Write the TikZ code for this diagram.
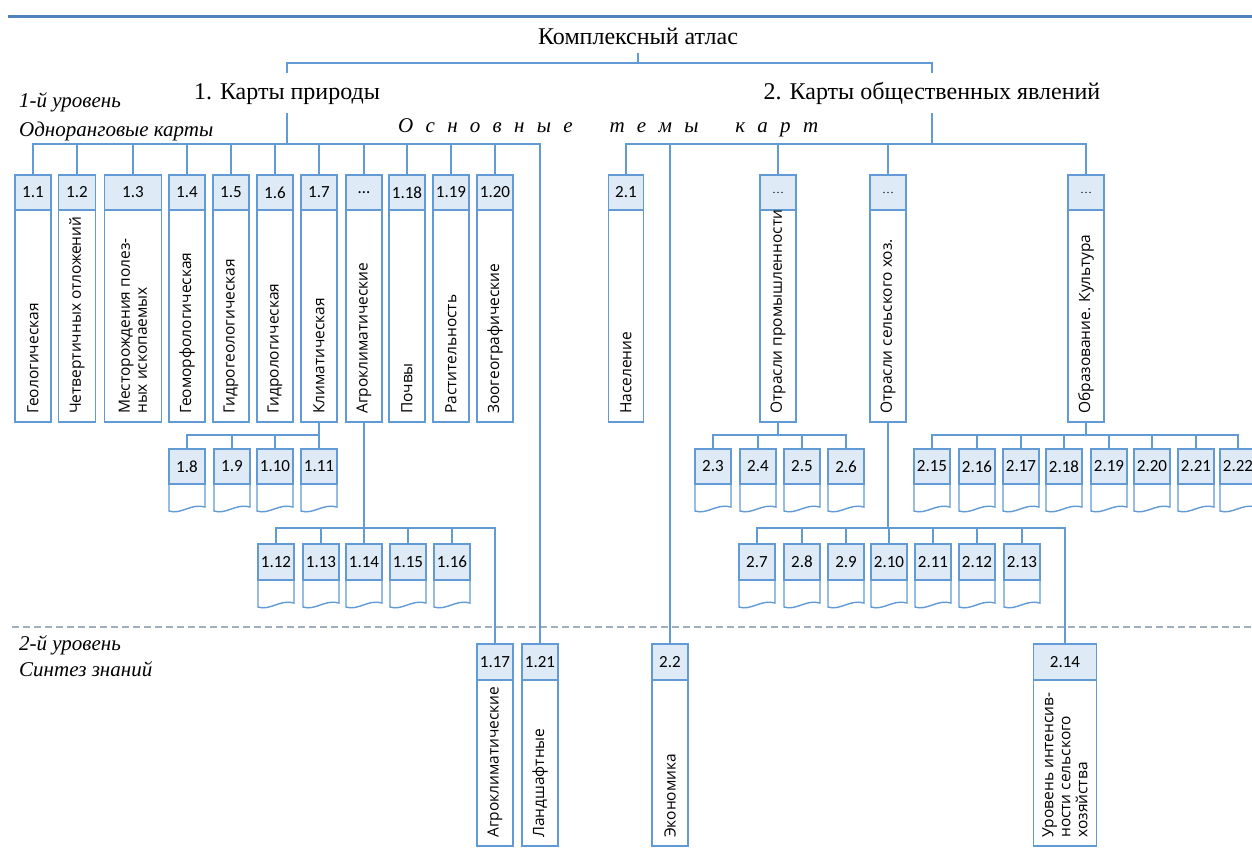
\documentclass[tikz,border=0pt]{standalone}
\usepackage{fontspec}
\setmainfont{Liberation Serif}
\newfontfamily\serifont{Liberation Serif}
\newfontfamily\boxfont{Open Sans}
\newfontfamily\numfont{Carlito}
\definecolor{lineblue}{RGB}{98,154,213}
\definecolor{hdrfill}{RGB}{222,235,247}
\definecolor{topblue}{RGB}{79,129,189}
\definecolor{dashgrey}{RGB}{160,174,190}
\tikzset{
  conn/.style={draw=lineblue,line width=1.4pt},
  hdr/.style={draw=lineblue,fill=hdrfill,line width=1.4pt,inner sep=0pt,font=\numfont\fontsize{17}{20}\selectfont},
  bodybox/.style={draw=lineblue,fill=white,line width=1.4pt,inner sep=0pt},
  docline/.style={draw=lineblue,fill=white,line width=1.4pt},
  vlab/.style={rotate=90,anchor=west,align=left,inner sep=0pt,font=\boxfont\fontsize{15.5}{17}\selectfont},
  titletext/.style={font=\serifont\fontsize{24}{28}\selectfont,anchor=base,inner xsep=2pt},
  leveltext/.style={font=\serifont\itshape\fontsize{21}{25}\selectfont,anchor=base west,inner sep=0pt},
}
\newcommand\TallBox[8]{% name, xc, w, num, label, top, hb, bot
  \pgfmathsetmacro\hh{#7-#6}\pgfmathsetmacro\hy{(#6+#7)/2}%
  \pgfmathsetmacro\bh{#8-#7}\pgfmathsetmacro\by{(#7+#8)/2}%
  \pgfmathsetmacro\ty{#8-8}%
  \node[bodybox,minimum width=#3,minimum height=\bh] (b#1) at (#2,\by) {};
  \node[hdr,minimum width=#3,minimum height=\hh] (h#1) at (#2,\hy) {#4};
  \node[vlab] (t#1) at (#2,\ty) {#5};
}
\newcommand\DocBox[6]{% name, xc, num, top, hb, bot
  \pgfmathsetmacro\xa{#2-18}\pgfmathsetmacro\xb{#2+18}%
  \pgfmathsetmacro\hh{#5-#4}\pgfmathsetmacro\hy{(#4+#5)/2}%
  \draw[docline] (\xa,#5) -- (\xa,{#6+2}) .. controls ({\xa+12},{#6+6}) and ({\xb-14},{#6-6}) .. (\xb,{#6-2}) -- (\xb,#5);
  \node[hdr,minimum width=36,minimum height=\hh] (h#1) at (#2,\hy) {#3};
}
\newcommand\Conn[3]{% parent, child, bus y
  \draw[conn] (#1.south) -- (#1.south |- 0,#3) -| (#2.north);
}
\begin{document}
\begin{tikzpicture}[x=1pt,y=-1pt]
\useasboundingbox (0,0) rectangle (1252,848);
% top rule and dashed separator
\draw[topblue,line width=3pt] (8,17) -- (1252,17);
\draw[dashgrey,line width=1.5pt,dash pattern=on 7pt off 4pt] (12,627) -- (1252,627);

% titles
\node[titletext,text height=17,text depth=0,inner ysep=8] (atlas) at (638,45) {Комплексный атлас};
\node[titletext,text height=17,text depth=3,inner ysep=10] (nat) at (287,100) {1. Карты природы};
\node[titletext,text height=17,text depth=3,inner ysep=10] (soc) at (932,100) {2. Карты общественных явлений};
\draw[conn] (atlas.south) -- (atlas.south |- 0,63) -| (nat.north);
\draw[conn] (atlas.south |- 0,63) -| (soc.north);

% level labels
\node[leveltext] (lev1) at (19,108) {1-й уровень};
\node[leveltext] (lev1b) at (19,136) {Одноранговые карты};
\node[leveltext] (lev2) at (19,650) {2-й уровень};
\node[leveltext] (lev2b) at (19,676) {Синтез знаний};
\node[leveltext] (themes) at (398,132) {\makebox[420pt][s]{О\hfill с\hfill н\hfill о\hfill в\hfill н\hfill ы\hfill е\hfill\hfill\hfill т\hfill е\hfill м\hfill ы\hfill\hfill\hfill к\hfill а\hfill р\hfill т}};

% top row, nature
\TallBox{101}{33}{36}{1.1}{Геологическая}{175}{210}{422}
\TallBox{102}{77}{37}{1.2}{Четвертичных отложений}{175}{210}{422}
\TallBox{103}{133}{57}{1.3}{Месторождения полез-\\ных ископаемых}{175}{210}{422}
\TallBox{104}{187}{36}{1.4}{Геоморфологическая}{175}{210}{422}
\TallBox{105}{231}{36}{1.5}{Гидрогеологическая}{175}{210}{422}
\TallBox{106}{275}{36}{1.6}{Гидрологическая}{175}{210}{422}
\TallBox{107}{319}{36}{1.7}{Климатическая}{175}{210}{422}
\TallBox{1ag}{364}{36}{…}{Агроклиматические}{175}{210}{422}
\TallBox{118}{407}{36}{1.18}{Почвы}{175}{210}{422}
\TallBox{119}{451}{36}{1.19}{Растительность}{175}{210}{422}
\TallBox{120}{495}{36}{1.20}{Зоогеографические}{175}{210}{422}

% top row, society
\TallBox{201}{626}{35}{2.1}{Население}{175}{210}{422}
\TallBox{2pr}{778}{36}{\serifont\fontsize{12}{12}\selectfont\raisebox{-3pt}{…}}{Отрасли промышленности}{175}{210}{422}
\TallBox{2sx}{888}{36}{\serifont\fontsize{12}{12}\selectfont\raisebox{-3pt}{…}}{Отрасли сельского хоз.}{175}{210}{422}
\TallBox{2ob}{1086}{36}{\serifont\fontsize{12}{12}\selectfont\raisebox{-3pt}{…}}{Образование. Культура}{175}{210}{422}

% second level
\TallBox{117}{495}{36}{1.17}{Агроклиматические}{644}{680}{846}
\TallBox{121}{540}{36}{1.21}{Ландшафтные}{644}{680}{846}
\TallBox{202}{670}{36}{2.2}{Экономика}{644}{680}{846}
\TallBox{214}{1065}{63}{2.14}{Уровень интенсив-\\ности сельского\\хозяйства}{644}{680}{846}

% document rows
\DocBox{108}{187}{1.8}{449}{484}{509}
\DocBox{109}{232}{1.9}{449}{484}{509}
\DocBox{110}{275}{1.10}{449}{484}{509}
\DocBox{111}{319}{1.11}{449}{484}{509}
\DocBox{112}{276}{1.12}{544}{580}{605}
\DocBox{113}{321}{1.13}{544}{580}{605}
\DocBox{114}{364}{1.14}{544}{580}{605}
\DocBox{115}{408}{1.15}{544}{580}{605}
\DocBox{116}{452}{1.16}{544}{580}{605}
\DocBox{203}{713}{2.3}{449}{484}{509}
\DocBox{204}{758}{2.4}{449}{484}{509}
\DocBox{205}{802}{2.5}{449}{484}{509}
\DocBox{206}{846}{2.6}{449}{484}{509}
\DocBox{207}{757}{2.7}{544}{580}{605}
\DocBox{208}{802}{2.8}{544}{580}{605}
\DocBox{209}{846}{2.9}{544}{580}{605}
\DocBox{210}{889}{2.10}{544}{580}{605}
\DocBox{211}{933}{2.11}{544}{580}{605}
\DocBox{212}{977}{2.12}{544}{580}{605}
\DocBox{213}{1022}{2.13}{544}{580}{605}
\DocBox{215}{932}{2.15}{449}{484}{509}
\DocBox{216}{977}{2.16}{449}{484}{509}
\DocBox{217}{1021}{2.17}{449}{484}{509}
\DocBox{218}{1064}{2.18}{449}{484}{509}
\DocBox{219}{1109}{2.19}{449}{484}{509}
\DocBox{220}{1152}{2.20}{449}{484}{509}
\DocBox{221}{1196}{2.21}{449}{484}{509}
\DocBox{222}{1238}{2.22}{449}{484}{509}

% connectors, nature
\foreach \c in {101,102,103,104,105,106,107,1ag,118,119,120,121} {\Conn{nat}{h\c}{144}}
\foreach \c in {108,109,110,111} {\Conn{b107}{h\c}{435}}
\foreach \c in {112,113,114,115,116,117} {\Conn{b1ag}{h\c}{528}}
% connectors, society
\foreach \c in {201,202,2pr,2sx,2ob} {\Conn{soc}{h\c}{144}}
\foreach \c in {203,204,205,206} {\Conn{b2pr}{h\c}{435}}
\foreach \c in {207,208,209,210,211,212,213,214} {\Conn{b2sx}{h\c}{528}}
\foreach \c in {215,216,217,218,219,220,221,222} {\Conn{b2ob}{h\c}{435}}
\end{tikzpicture}
\end{document}
